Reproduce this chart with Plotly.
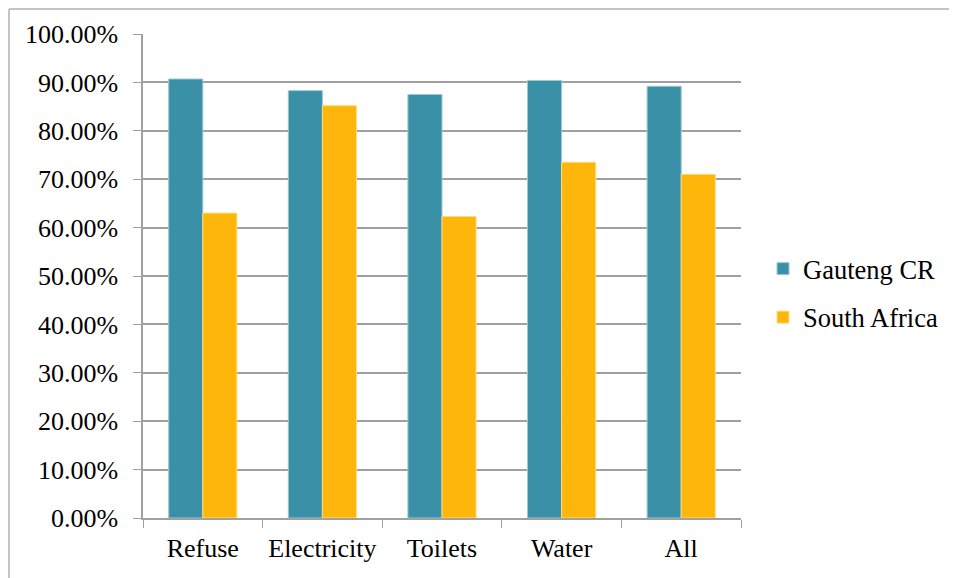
import plotly.graph_objects as go

categories = ["Refuse", "Electricity", "Toilets", "Water", "All"]
gauteng = [0.907, 0.883, 0.875, 0.904, 0.892]
south_africa = [0.630, 0.852, 0.623, 0.735, 0.710]
y_ticks = [i / 10 for i in range(11)]
y_tick_labels = [f"{v*100:.2f}%" for v in y_ticks]

FONT = "Liberation Serif, Times New Roman, Times, serif"

fig = go.Figure()
fig.add_trace(go.Bar(name="Gauteng CR", x=categories, y=gauteng, legendgroup="g",
                     marker=dict(color="#3A90A7", line=dict(color="#9CC8D4", width=1))))
fig.add_trace(go.Bar(name="South Africa", x=categories, y=south_africa, legendgroup="s",
                     marker=dict(color="#FFB60B", line=dict(color="#FFDC80", width=1))))

fig.update_layout(
    width=957, height=578,
    margin=dict(l=135, r=224, t=26, b=68),
    paper_bgcolor="white", plot_bgcolor="white",
    barmode="group", bargap=0.43, bargroupgap=0,
    font=dict(family=FONT, size=26, color="black"),
    showlegend=True,
    legend=dict(x=(763 - 143) / 598, y=0.465, xanchor="left", yanchor="middle",
                font=dict(family=FONT, size=26.5, color="black"),
                itemwidth=30, tracegroupgap=11, traceorder="grouped"),
)
fig.update_xaxes(showline=True, linecolor="#A0A0A0", linewidth=1.5,
                 ticks="outside", tickson="boundaries", ticklen=8, tickcolor="#A0A0A0",
                 showgrid=False, tickfont=dict(family=FONT, size=26), tickangle=0,
                 automargin=False, ticklabelstandoff=6)
fig.update_yaxes(range=[0, 1], tickvals=y_ticks, ticktext=y_tick_labels,
                 showline=True, linecolor="#A0A0A0", linewidth=1.5,
                 ticks="outside", ticklen=8, tickcolor="#A0A0A0",
                 showgrid=True, gridcolor="#A0A0A0", gridwidth=1.5, automargin=False,
                 zeroline=False, tickfont=dict(family=FONT, size=26), ticklabelstandoff=10)

# outer chart border (top and left visible), just inside the figure edge
top_y = (510 - 1) / 484
left_x = (1 - 135) / 598
fig.add_shape(type="line", xref="paper", yref="paper",
              x0=left_x, x1=(960 - 135) / 598, y0=top_y, y1=top_y,
              line=dict(color="#B0B0B0", width=1.5))
fig.add_shape(type="line", xref="paper", yref="paper",
              x0=left_x, x1=left_x, y0=top_y, y1=(510 - 580) / 484,
              line=dict(color="#B0B0B0", width=1.5))

fig.write_html("out.html")
